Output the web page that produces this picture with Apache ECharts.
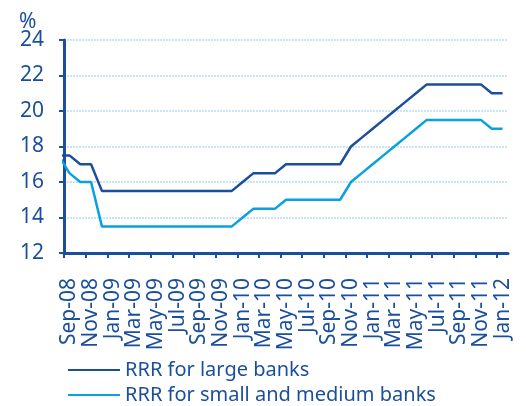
<!DOCTYPE html>
<html>
<head>
<meta charset="utf-8">
<script src="https://cdn.jsdelivr.net/npm/echarts@6/dist/echarts.min.js"></script>
<style>
  html, body { margin: 0; padding: 0; background: #fff; }
  #chart { width: 526px; height: 406px; }
</style>
</head>
<body>
<div id="chart"></div>
<script>
// monthly categories, Sep-08 .. Jan-12
var months = ['Sep-08','Oct-08','Nov-08','Dec-08',
  'Jan-09','Feb-09','Mar-09','Apr-09','May-09','Jun-09','Jul-09','Aug-09','Sep-09','Oct-09','Nov-09','Dec-09',
  'Jan-10','Feb-10','Mar-10','Apr-10','May-10','Jun-10','Jul-10','Aug-10','Sep-10','Oct-10','Nov-10','Dec-10',
  'Jan-11','Feb-11','Mar-11','Apr-11','May-11','Jun-11','Jul-11','Aug-11','Sep-11','Oct-11','Nov-11','Dec-11',
  'Jan-12'];

// value for the month before the first one (line runs in from the left edge)
var prevLarge = 17.5;
var prevSmall = 17.5;

var largeBanks = [17.5, 17.0, 17.0, 15.5,
  15.5, 15.5, 15.5, 15.5, 15.5, 15.5, 15.5, 15.5, 15.5, 15.5, 15.5, 15.5,
  16.0, 16.5, 16.5, 16.5, 17.0, 17.0, 17.0, 17.0, 17.0, 17.0, 18.0, 18.5,
  19.0, 19.5, 20.0, 20.5, 21.0, 21.5, 21.5, 21.5, 21.5, 21.5, 21.5, 21.0,
  21.0];

var smallBanks = [16.5, 16.0, 16.0, 13.5,
  13.5, 13.5, 13.5, 13.5, 13.5, 13.5, 13.5, 13.5, 13.5, 13.5, 13.5, 13.5,
  14.0, 14.5, 14.5, 14.5, 15.0, 15.0, 15.0, 15.0, 15.0, 15.0, 16.0, 16.5,
  17.0, 17.5, 18.0, 18.5, 19.0, 19.5, 19.5, 19.5, 19.5, 19.5, 19.5, 19.0,
  19.0];

var yTicks = [12, 14, 16, 18, 20, 22, 24];
var seriesNames = ['RRR for large banks', 'RRR for small and medium banks'];

var navy = '#1b4f9c';
var cyan = '#0aa0e2';
var font = 'Noto Sans';

// points sit in the middle of each month slot
function toPoints(prev, arr) {
  var pts = [[-0.5, prev]];
  arr.forEach(function (v, i) { pts.push([i + 0.5, v]); });
  return pts;
}

var tickPos = [];
var labelPos = [];
for (var i = 0; i < months.length; i += 2) {
  tickPos.push(i);
  labelPos.push(i + 0.5);
}

function legendFor(name, top) {
  return {
    left: 63,
    top: top,
    icon: 'rect',
    itemWidth: 52,
    itemHeight: 2,
    itemGap: 0,
    textStyle: { fontFamily: font, fontSize: 20, color: navy },
    data: [name]
  };
}

var chart = echarts.init(document.getElementById('chart'));
chart.setOption({
  animation: false,
  title: {
    text: '%',
    left: 14,
    top: 7,
    textStyle: { fontFamily: font, fontSize: 21, fontWeight: 'normal', color: navy }
  },
  grid: { left: 64, right: 18, top: 40, bottom: 153, containLabel: false },
  legend: [legendFor(seriesNames[0], 355), legendFor(seriesNames[1], 380)],
  xAxis: {
    type: 'value',
    min: 0,
    max: months.length,
    axisLine: { show: true, onZero: false, lineStyle: { color: navy, width: 3 } },
    axisTick: { show: true, length: 5, customValues: tickPos, lineStyle: { color: navy, width: 2 } },
    splitLine: { show: false },
    axisLabel: {
      customValues: labelPos,
      rotate: 90,
      margin: 25,
      fontFamily: font,
      fontSize: 21,
      color: navy,
      formatter: function (v) { return months[Math.floor(v)]; }
    }
  },
  yAxis: {
    type: 'value',
    min: yTicks[0],
    max: yTicks[yTicks.length - 1],
    interval: 2,
    axisLine: { show: true, lineStyle: { color: navy, width: 3 } },
    axisTick: { show: true, length: 5, lineStyle: { color: navy, width: 2 } },
    axisLabel: { margin: 20, fontFamily: font, fontSize: 21, color: navy },
    splitLine: { show: true, lineStyle: { color: '#c9e6f7', width: 2, type: [2, 1] } }
  },
  series: [
    {
      name: seriesNames[0],
      type: 'line',
      symbol: 'none',
      clip: true,
      data: toPoints(prevLarge, largeBanks),
      lineStyle: { color: navy, width: 2.5 },
      itemStyle: { color: navy }
    },
    {
      name: seriesNames[1],
      type: 'line',
      symbol: 'none',
      clip: true,
      data: toPoints(prevSmall, smallBanks),
      lineStyle: { color: cyan, width: 2.5 },
      itemStyle: { color: cyan }
    }
  ]
});
</script>
</body>
</html>
